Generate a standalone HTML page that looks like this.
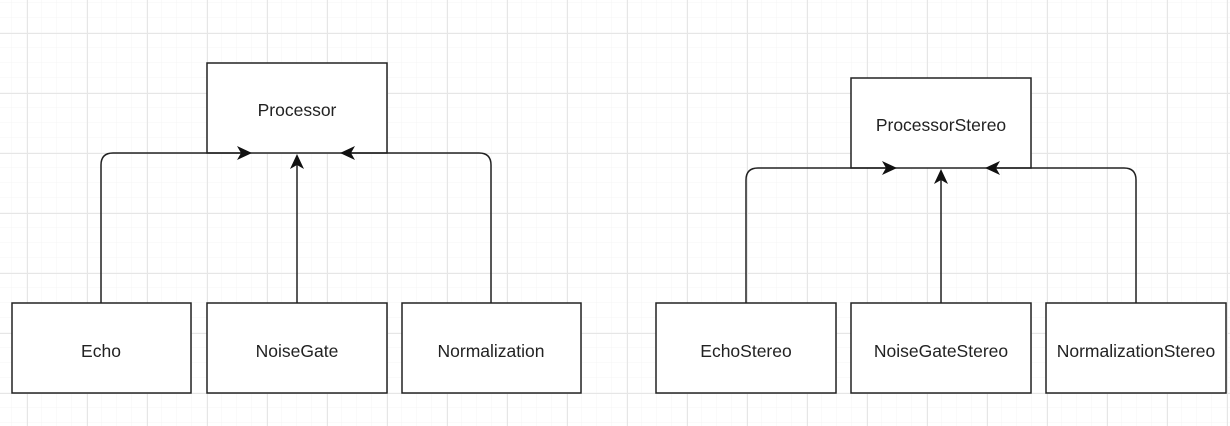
<!DOCTYPE html>
<html><head><style>
html,body{margin:0;padding:0;background:#fff;}
svg{display:block;}
text{font-family:"Liberation Sans",sans-serif;font-size:17.5px;fill:#222;}
</style></head><body>
<svg width="1230" height="426" viewBox="0 0 1230 426" xmlns="http://www.w3.org/2000/svg">
<defs>
<pattern id="minor" width="15" height="15" patternUnits="userSpaceOnUse" x="12" y="3">
<path d="M15 0V15M0 15H15" stroke="#f4f4f4" stroke-width="1" fill="none"/>
</pattern>
<pattern id="major" width="60" height="60" patternUnits="userSpaceOnUse" x="27" y="33">
<path d="M0.5 0V60M0 0.5H60" stroke="#e6e6e6" stroke-width="1" fill="none"/>
</pattern>
</defs>
<rect width="1230" height="426" fill="url(#minor)"/>
<rect width="1230" height="426" fill="url(#major)"/>
<g stroke="#222" stroke-width="1.5" fill="#fff">
<rect x="207" y="63" width="180" height="90"/>
<rect x="12" y="303" width="179" height="90"/>
<rect x="207" y="303" width="180" height="90"/>
<rect x="402" y="303" width="179" height="90"/>
<rect x="851" y="78" width="180" height="90"/>
<rect x="656" y="303" width="180" height="90"/>
<rect x="851" y="303" width="180" height="90"/>
<rect x="1046" y="303" width="180" height="90"/>
</g>
<g stroke="#222" stroke-width="1.5" fill="none">
<path d="M101 303V165Q101 153 113 153H245"/>
<path d="M297 303V162"/>
<path d="M491 303V165Q491 153 479 153H347"/>
<path d="M746 303V180Q746 168 758 168H890"/>
<path d="M941 303V177"/>
<path d="M1136 303V180Q1136 168 1124 168H992"/>
</g>
<g fill="#111">
<path d="M252 153L237 146L241 153L237 160Z"/>
<path d="M297 154L290 169L297 165L304 169Z"/>
<path d="M340 153L355 146L351 153L355 160Z"/>
<path d="M897 168L882 161L886 168L882 175Z"/>
<path d="M941 169L934 184L941 180L948 184Z"/>
<path d="M985 168L1000 161L996 168L1000 175Z"/>
</g>
<g text-anchor="middle">
<text x="297" y="116">Processor</text>
<text x="101" y="357">Echo</text>
<text x="297" y="357">NoiseGate</text>
<text x="491" y="357">Normalization</text>
<text x="941" y="131">ProcessorStereo</text>
<text x="746" y="357">EchoStereo</text>
<text x="941" y="357">NoiseGateStereo</text>
<text x="1136" y="357">NormalizationStereo</text>
</g>
</svg>
</body></html>
